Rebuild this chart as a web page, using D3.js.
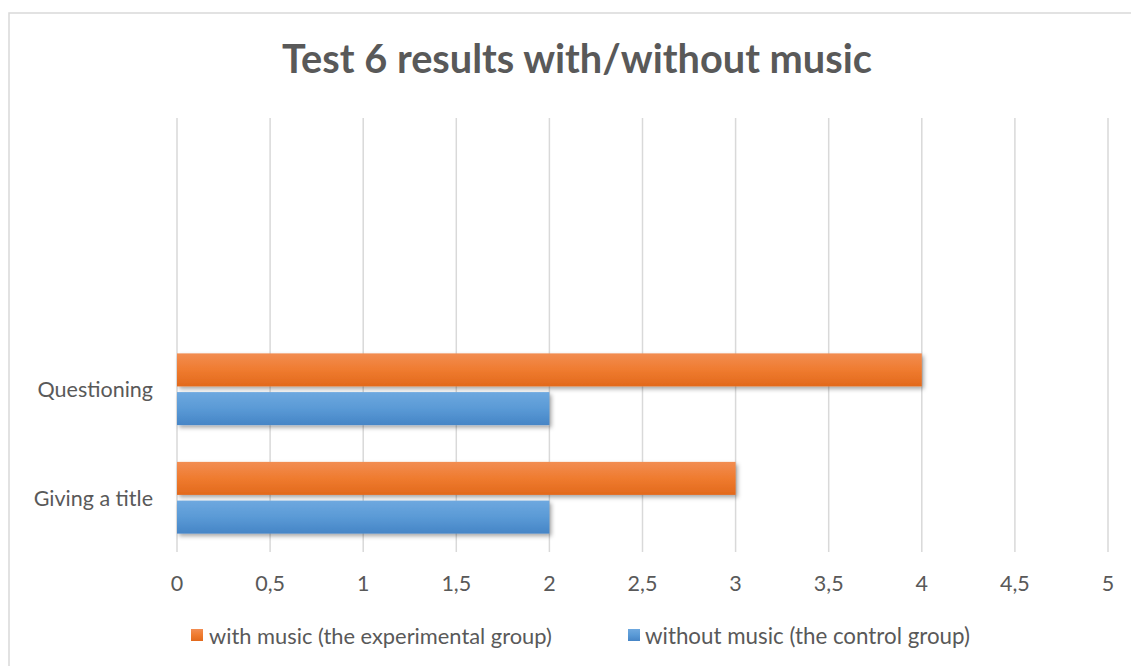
<!DOCTYPE html>
<html>
<head>
<meta charset="utf-8">
<script src="https://cdn.jsdelivr.net/npm/d3@7"></script>
<style>
  html, body { margin: 0; padding: 0; background: #ffffff; }
  svg { display: block; }
  text { font-family: Lato, "Open Sans", sans-serif; fill: #595959; }
</style>
</head>
<body>
<svg id="chart" width="1131" height="666"></svg>
<script>
// ---- data ----
const title = "Test 6 results with/without music";
const categories = ["Giving a title", "Questioning", "", ""];   // bottom to top; top two slots are empty
const withMusic = [3, 4, null, null];
const withoutMusic = [2, 2, null, null];
const seriesNames = ["with music (the experimental group)", "without music (the control group)"];
const xTicks = [0, 0.5, 1, 1.5, 2, 2.5, 3, 3.5, 4, 4.5, 5];
const xTickLabels = ["0", "0,5", "1", "1,5", "2", "2,5", "3", "3,5", "4", "4,5", "5"];

// ---- layout ----
const W = 1131, H = 666;
const plot = { left: 177, right: 1108, top: 118, bottom: 552 };
const svg = d3.select("#chart");

const defs = svg.append("defs");
function grad(id, top, mid, bot) {
  const g = defs.append("linearGradient").attr("id", id)
    .attr("x1", 0).attr("y1", 0).attr("x2", 0).attr("y2", 1);
  g.append("stop").attr("offset", "0%").attr("stop-color", top);
  g.append("stop").attr("offset", "50%").attr("stop-color", mid);
  g.append("stop").attr("offset", "100%").attr("stop-color", bot);
}
grad("gOrange", "#f28d52", "#ef7b2f", "#e2691c");
grad("gBlue", "#6ea8df", "#5a9ad6", "#4685c6");
const f = defs.append("filter").attr("id", "shadow")
  .attr("x", "-5%").attr("y", "-30%").attr("width", "115%").attr("height", "170%");
f.append("feDropShadow").attr("dx", 2).attr("dy", 2.5).attr("stdDeviation", 2)
  .attr("flood-color", "#000").attr("flood-opacity", 0.35);

// chart border
svg.append("rect").attr("x", 9).attr("y", 13).attr("width", W + 20).attr("height", H + 20)
  .attr("fill", "none").attr("stroke", "#d9d9d9").attr("stroke-width", 1.5);

// scales
const x = d3.scaleLinear().domain([0, 5]).range([plot.left, plot.right]);
const y = d3.scaleBand().domain(d3.range(categories.length)).range([plot.bottom, plot.top]).padding(0);
const sub = d3.scaleBand().domain(["with", "without"]).range([0, y.bandwidth()])
  .paddingInner(0.147).paddingOuter(0.475);

// gridlines
svg.append("g").selectAll("line").data(xTicks).join("line")
  .attr("x1", d => x(d)).attr("x2", d => x(d))
  .attr("y1", plot.top).attr("y2", plot.bottom)
  .attr("stroke", "#d9d9d9").attr("stroke-width", 1.5);

// bars
const rows = categories.map((c, i) => ({ i, c, with: withMusic[i], without: withoutMusic[i] }));
const series = [
  { key: "with", fill: "url(#gOrange)" },
  { key: "without", fill: "url(#gBlue)" }
];
series.forEach(s => {
  svg.append("g").attr("filter", "url(#shadow)").selectAll("rect")
    .data(rows.filter(r => r[s.key] != null)).join("rect")
    .attr("x", x(0))
    .attr("y", r => y(r.i) + sub(s.key))
    .attr("width", r => x(r[s.key]) - x(0))
    .attr("height", sub.bandwidth())
    .attr("fill", s.fill);
});

// x axis labels
const fs = 21.5;
svg.append("g").selectAll("text").data(xTicks).join("text")
  .attr("x", d => x(d)).attr("y", 583)
  .attr("text-anchor", "middle").attr("dominant-baseline", "central")
  .attr("font-size", fs)
  .text((d, i) => xTickLabels[i]);

// category labels
svg.append("g").selectAll("text").data(rows.filter(r => r.c !== "")).join("text")
  .attr("x", 153).attr("y", r => y(r.i) + y.bandwidth() / 2)
  .attr("text-anchor", "end").attr("dominant-baseline", "central")
  .attr("font-size", fs)
  .text(r => r.c);

// title
const t = svg.append("text").attr("x", 577).attr("y", 57)
  .attr("text-anchor", "middle").attr("dominant-baseline", "central")
  .attr("font-weight", "bold").attr("font-size", 38)
  .text(title);
const tw = t.node().getComputedTextLength();
t.attr("font-size", 38 * 590 / tw);

// legend
const legend = [
  { name: seriesNames[0], fill: "url(#gOrange)", sx: 191, tx: 209, w: 343 },
  { name: seriesNames[1], fill: "url(#gBlue)", sx: 628, tx: 645, w: 325 }
];
legend.forEach(l => {
  svg.append("rect").attr("x", l.sx).attr("y", 629).attr("width", 12).attr("height", 12).attr("fill", l.fill);
  const lt = svg.append("text").attr("x", l.tx).attr("y", 635)
    .attr("dominant-baseline", "central").attr("font-size", fs).text(l.name);
  const w = lt.node().getComputedTextLength();
  lt.attr("font-size", fs * l.w / w);
});
</script>
</body>
</html>
